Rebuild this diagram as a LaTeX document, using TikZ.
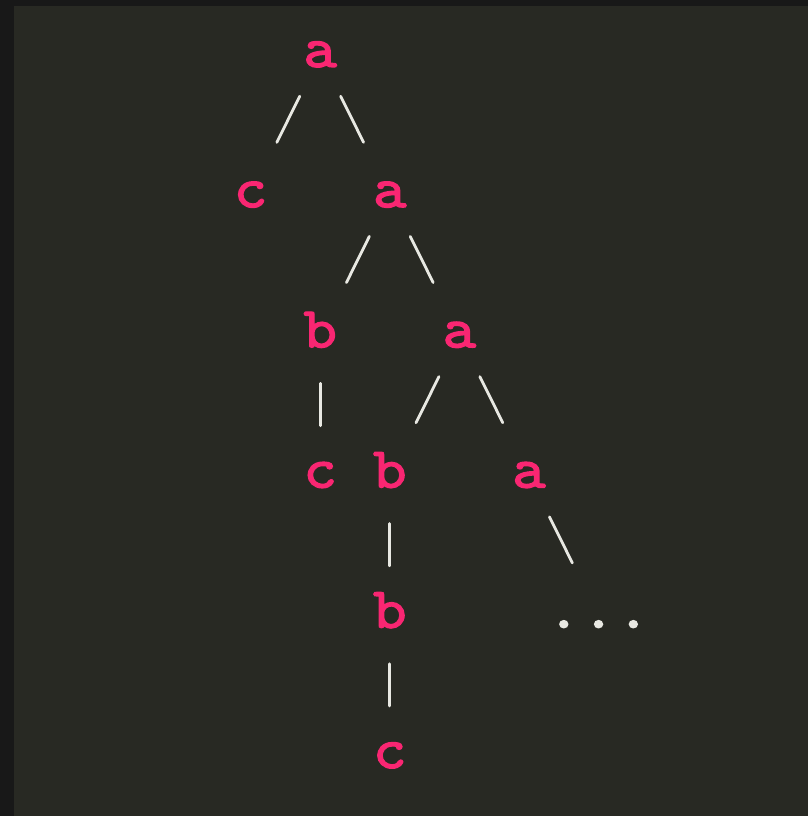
\documentclass[tikz,border=0pt]{standalone}
\usepackage{fontspec}
\newfontfamily\codefont[FakeBold=2.2,FakeStretch=1.1]{lmmono10-regular.otf}
\definecolor{frame}{HTML}{181818}
\definecolor{bg}{HTML}{282923}
\definecolor{pinkkw}{HTML}{F92672}
\definecolor{fg}{HTML}{E8E8E2}
\tikzset{
  letter/.style={font=\codefont\fontsize{58}{58}\selectfont, text=pinkkw,
    inner sep=0pt, text height=24pt, text depth=0pt, anchor=center},
  dotsnode/.style={letter, text=fg},
  diag/.style={draw=fg, line width=2.8pt, line cap=round, shorten <=46pt, shorten >=59pt},
  vert/.style={draw=fg, line width=2.8pt, line cap=round, shorten <=48pt, shorten >=50pt}
}
\begin{document}
\begin{tikzpicture}[x=1pt,y=-1pt]
\useasboundingbox (0,0) rectangle (808,816);
\fill[frame] (0,0) rectangle (808,816);
\fill[bg] (14,6) rectangle (808,816);
% nodes
\node[letter] (n1) at (320.2,55) {a};
\node[letter] (n2) at (250.6,195.2) {c};
\node[letter] (n3) at (389.8,195.2) {a};
\node[letter] (n4) at (320.2,335.4) {b};
\node[letter] (n5) at (459.4,335.4) {a};
\node[letter] (n6) at (320.2,475.6) {c};
\node[letter] (n7) at (389.8,475.6) {b};
\node[letter] (n8) at (529,475.6) {a};
\node[letter] (n9) at (389.8,615.8) {b};
\node[dotsnode] (dots) at (598.6,615.8) {\makebox[34.8pt]{.}\makebox[34.8pt]{.}\makebox[34.8pt]{.}};
\node[letter] (n10) at (389.8,756) {c};
% connectors
\draw[diag] (n1.center) -- (n2.center);
\draw[diag] (n1.center) -- (n3.center);
\draw[diag] (n3.center) -- (n4.center);
\draw[diag] (n3.center) -- (n5.center);
\draw[vert] (n4.center) -- (n6.center);
\draw[diag] (n5.center) -- (n7.center);
\draw[diag] (n5.center) -- (n8.center);
\draw[vert] (n7.center) -- (n9.center);
\draw[diag] (n8.center) -- (dots.center);
\draw[vert] (n9.center) -- (n10.center);
\end{tikzpicture}
\end{document}
